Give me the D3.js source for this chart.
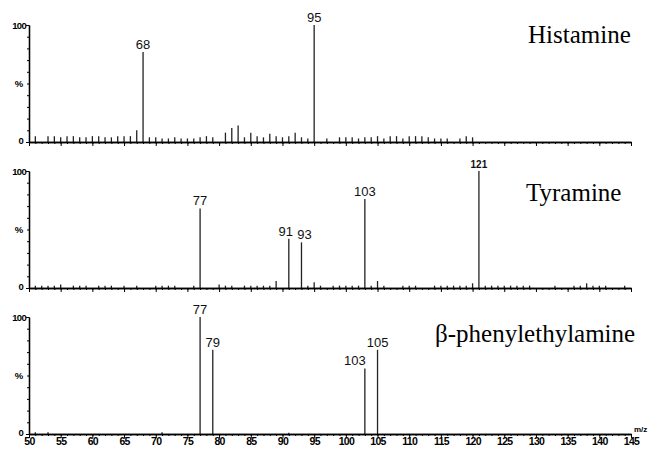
<!DOCTYPE html>
<html>
<head>
<meta charset="utf-8">
<script src="https://cdn.jsdelivr.net/npm/d3@7"></script>
<style>
  body { margin: 0; background: #fff; }
  .tick text { font-family: "Liberation Sans", Arial, sans-serif; font-weight: bold; fill: #000; }
</style>
</head>
<body>
<script>
  "use strict";

  /***** Données *****/
  const mzMajorTicks = d3.range(50, 146, 5);
  const mzMinorTicks = d3.range(50, 146, 1);

  const histamineMz = [51, 53, 54, 55, 56, 57, 58, 59, 60, 61, 62, 63, 64, 65, 66, 67, 68, 69, 70, 71,
    72, 73, 74, 75, 76, 77, 78, 79, 81, 82, 83, 84, 85, 86, 87, 88, 89, 90, 91, 92, 93, 94, 95, 97,
    99, 100, 101, 102, 103, 104, 105, 106, 107, 108, 109, 110, 111, 112, 113, 114, 115, 116, 118, 119, 120];
  const histamineInt = [5, 5, 5, 4, 5, 5, 4, 4, 5, 5, 4, 4, 5, 5, 5, 10, 77, 4, 4, 3,
    3, 4, 3, 3, 3, 4, 5, 4, 8, 12, 14, 4, 8, 5, 4, 7, 5, 4, 5, 8, 4, 3, 100, 3,
    4, 4, 4, 3, 4, 4, 5, 3, 5, 5, 3, 5, 5, 5, 4, 3, 3, 3, 3, 5, 4];
  const histamineLabels = [68, 95];

  const tyramineMz = [51, 52, 53, 54, 55, 57, 58, 59, 61, 62, 63, 65, 67, 70, 71, 72, 73, 76, 77,
    80, 81, 82, 84, 85, 86, 87, 88, 89, 91, 93, 94, 95, 96, 98, 99, 100, 101, 102, 103, 104, 105,
    106, 109, 110, 111, 114, 115, 116, 117, 118, 119, 120, 121, 122, 123, 124, 125, 126, 127, 128,
    129, 133, 136, 137, 138, 139, 140, 141, 144];
  const tyramineInt = [2, 2, 2, 2, 3, 2, 2, 2, 2, 2, 2, 2, 2, 2, 2, 2, 2, 2, 68,
    3, 2, 2, 2, 2, 2, 2, 2, 6, 42, 39, 2, 5, 2, 2, 2, 2, 2, 2, 76, 2, 6,
    2, 2, 2, 2, 2, 2, 2, 2, 2, 2, 4, 100, 2, 2, 2, 2, 2, 2, 2,
    2, 2, 2, 2, 4, 2, 2, 2, 2];
  const tyramineLabels = [77, 91, 93, 103, 121];

  const peaMz = [51, 53, 71, 77, 79, 91, 103, 105];
  const peaInt = [1.5, 1.5, 1.5, 100, 72, 1, 56, 72];
  const peaLabels = [77, 79, 103, 105];

  /***** Configuration *****/
  const width = 649;
  const height = 449;
  const panelHeight = 117;

  const x = d3.scaleLinear().domain([50, 145]).range([29, 631]);

  const panels = [
    { name: "Histamine", mz: histamineMz, values: histamineInt, labels: histamineLabels,
      top: 25, nameX: 528, nameY: 43, shift: {}, small: [] },
    { name: "Tyramine", mz: tyramineMz, values: tyramineInt, labels: tyramineLabels,
      top: 171, nameX: 526, nameY: 201, shift: { 91: -3, 93: 3 }, small: [121] },
    { name: "β-phenylethylamine", mz: peaMz, values: peaInt, labels: peaLabels,
      top: 317, nameX: 435, nameY: 342, shift: { 103: -10 }, small: [] }
  ];

  const svg = d3.select("body")
    .append("svg")
    .attr("width", width)
    .attr("height", height);

  panels.forEach((p, i) => {
    const base = p.top + panelHeight;
    const y = d3.scaleLinear().domain([0, 100]).range([base, p.top]);
    const g = svg.append("g");

    // Pics
    g.selectAll("line.peak")
      .data(p.mz.map((m, k) => ({ mz: m, v: p.values[k] })))
      .enter()
      .append("line")
      .attr("class", "peak")
      .attr("x1", d => x(d.mz))
      .attr("x2", d => x(d.mz))
      .attr("y1", base)
      .attr("y2", d => y(d.v))
      .attr("stroke", "#222")
      .attr("stroke-width", 1.3);

    // Étiquettes des pics
    g.selectAll("text.peak-label")
      .data(p.labels)
      .enter()
      .append("text")
      .attr("class", "peak-label")
      .attr("x", m => x(m) + (p.shift[m] || 0))
      .attr("y", m => y(p.values[p.mz.indexOf(m)]) - 3)
      .attr("text-anchor", "middle")
      .attr("font-family", "'Liberation Sans', Arial, sans-serif")
      .attr("font-size", m => p.small.includes(m) ? 10 : 13)
      .attr("font-weight", m => p.small.includes(m) ? "bold" : "normal")
      .attr("fill", "#111")
      .text(m => m);

    // Axe X (ticks mineurs + majeurs)
    const xMinor = d3.axisBottom(x).tickValues(mzMinorTicks).tickSize(2).tickSizeOuter(0).tickFormat("");
    const xMajor = d3.axisBottom(x).tickValues(mzMajorTicks).tickSize(4).tickSizeOuter(0)
      .tickFormat(i === panels.length - 1 ? d3.format("d") : "");

    g.append("g")
      .attr("transform", "translate(0," + base + ")")
      .call(xMinor);

    const xa = g.append("g")
      .attr("transform", "translate(0," + base + ")")
      .call(xMajor);
    xa.selectAll("text")
      .attr("font-size", 10.5)
      .attr("letter-spacing", -0.7)
      .attr("dy", 0)
      .attr("y", 11);
    g.selectAll(".domain").attr("stroke", "#000").attr("stroke-width", 1.3);
    g.selectAll(".tick line").attr("stroke", "#000");

    // Axe Y
    const yMinor = d3.axisLeft(y).tickValues(d3.range(0, 101, 10)).tickSize(2).tickSizeOuter(0).tickFormat("");
    const yMajor = d3.axisLeft(y).tickValues([0, 100]).tickSize(3).tickSizeOuter(0);
    g.append("g").attr("transform", "translate(29,0)").call(yMinor);
    const ya = g.append("g").attr("transform", "translate(29,0)").call(yMajor);
    ya.selectAll("text")
      .attr("font-size", 9.5)
      .attr("x", d => d === 0 ? -6 : -3)
      .attr("dy", d => d === 0 ? "0.2em" : "0.32em")
      .attr("letter-spacing", -0.7);
    g.selectAll(".domain").attr("stroke", "#000").attr("stroke-width", 1.3);

    g.append("text")
      .attr("x", 19)
      .attr("y", y(50) + 3)
      .attr("text-anchor", "middle")
      .attr("font-family", "'Liberation Sans', Arial, sans-serif")
      .attr("font-weight", "bold")
      .attr("font-size", 9.5)
      .text("%");

    // Nom du composé
    g.append("text")
      .attr("x", p.nameX)
      .attr("y", p.nameY)
      .attr("font-family", "'Liberation Serif', 'Times New Roman', serif")
      .attr("font-size", 25)
      .attr("fill", "#000")
      .text(p.name);
  });

  svg.append("text")
    .attr("x", 634)
    .attr("y", 432)
    .attr("font-family", "'Liberation Sans', Arial, sans-serif")
    .attr("font-weight", "bold")
    .attr("font-size", 8)
    .text("m/z");
</script>
</body>
</html>
